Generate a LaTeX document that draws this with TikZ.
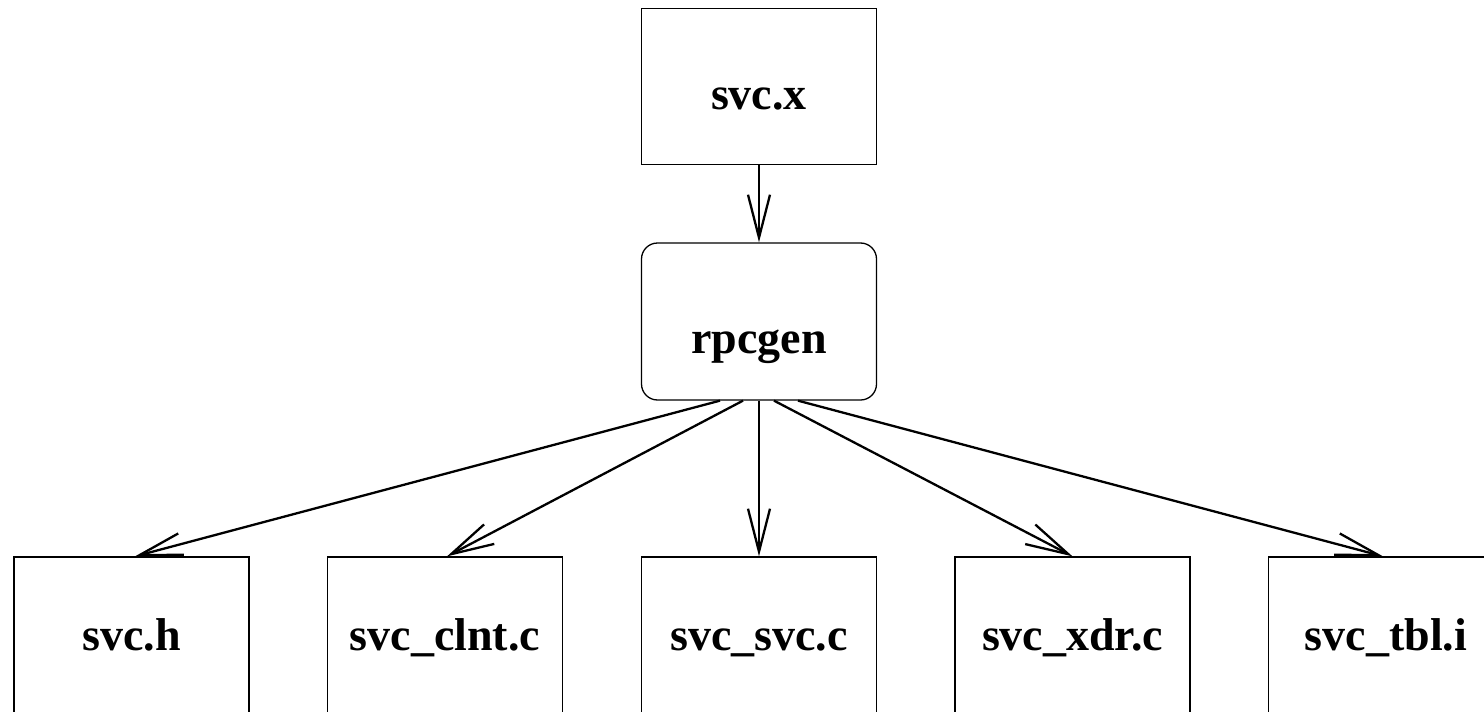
\documentclass[tikz,border=0pt]{standalone}
\usepackage{fontspec}
\setmainfont{Liberation Serif}
\usetikzlibrary{arrows.meta}
\begin{document}
\begin{tikzpicture}[x=0.5pt,y=-0.5pt,
  box/.style={draw=black,line width=0.65pt,minimum width=117.5pt,inner sep=0pt,
    font=\fontsize{23pt}{27pt}\selectfont\bfseries},
  topbox/.style={box,minimum height=78pt,text height=23.4pt,text depth=0pt},
  genbox/.style={box,rounded corners=8pt,minimum height=78.5pt,text height=31.5pt,text depth=0pt},
  outbox/.style={box,minimum height=80pt,text height=13pt,text depth=0pt},
  conn/.style={line width=1.15pt,-{Straight Barb[length=21.5pt,width=11pt,line width=1.15pt]}}]
\useasboundingbox (0,0) rectangle (1484,712);
\clip (0,0) rectangle (1484,712);
\node[topbox] (x) at (759,86.5) {svc.x};
\node[genbox] (gen) at (759,321.5) {rpcgen};
\node[outbox] (h) at (131.5,637) {svc.h};
\node[outbox] (clnt) at (445,637) {svc\_clnt.c};
\node[outbox] (svc) at (759,637) {svc\_svc.c};
\node[outbox] (xdr) at (1072.5,637) {svc\_xdr.c};
\node[outbox] (tbl) at (1386,637) {svc\_tbl.i};
\draw[conn] (x.south) -- (gen.north);
\draw[conn] ([xshift=-19.5pt]gen.south) -- ([xshift=1.75pt]h.north);
\draw[conn] ([xshift=-8pt]gen.south) -- ([xshift=1pt]clnt.north);
\draw[conn] (gen.south) -- (svc.north);
\draw[conn] ([xshift=7.5pt]gen.south) -- (xdr.north);
\draw[conn] ([xshift=19.5pt]gen.south) -- ([xshift=-1.5pt]tbl.north);
\end{tikzpicture}
\end{document}
